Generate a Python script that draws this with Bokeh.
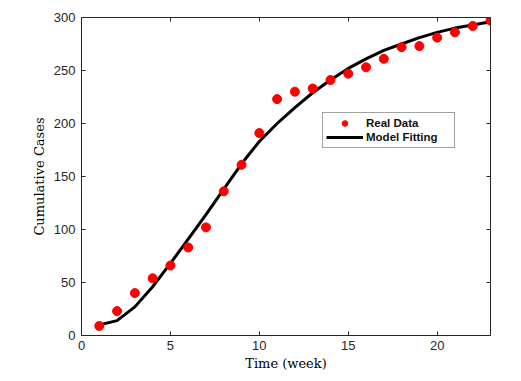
from bokeh.plotting import figure
from bokeh.models import LinearAxis, Legend, LegendItem, FixedTicker, Range1d
from bokeh.embed import file_html
from bokeh.resources import INLINE

weeks = list(range(1, 24))
real_data = [9, 23, 40, 54, 66, 83, 102, 136, 161, 191, 223, 230, 233, 241,
             247, 253, 261, 272, 273, 281, 286, 292, 297]
model_fit = [10, 14, 27, 46, 68, 91, 114, 138, 162, 183, 200, 215, 229, 241,
             252, 261, 269, 275, 281, 286, 290, 293, 296]
x_ticks = [0, 5, 10, 15, 20]
y_ticks = [0, 50, 100, 150, 200, 250, 300]

p = figure(width=513, height=373, output_backend="svg", toolbar_location=None,
           x_range=Range1d(0, 23), y_range=Range1d(0, 300),
           min_border_left=81, min_border_right=23, min_border_top=17,
           min_border_bottom=38)
p.grid.visible = False
p.outline_line_color = None
p.background_fill_color = "white"
p.border_fill_color = "white"

line = p.line(weeks, model_fit, line_color="black", line_width=3)
pts = p.scatter(weeks, real_data, size=9, fill_color="#ff0000", line_color="#ff0000")

tick_color = "#262626"
for ax, ticks in ((p.xaxis[0], x_ticks), (p.yaxis[0], y_ticks)):
    ax.ticker = FixedTicker(ticks=ticks)
    ax.major_tick_in = 4
    ax.major_tick_out = 0
    ax.minor_tick_line_color = None
    ax.axis_line_color = tick_color
    ax.major_tick_line_color = tick_color
    ax.major_label_text_font = "Liberation Sans"
    ax.major_label_text_font_size = "13px"
    ax.major_label_text_color = tick_color

p.xaxis[0].axis_label = "Time (week)"
p.yaxis[0].axis_label = "Cumulative Cases"
for ax in (p.xaxis[0], p.yaxis[0]):
    ax.axis_label_text_font = "DejaVu Serif"
    ax.axis_label_text_font_style = "normal"
    ax.axis_label_text_font_size = "13px"
    ax.axis_label_text_color = "black"
p.xaxis[0].axis_label_standoff = 3
p.xaxis[0].major_label_standoff = 5
p.yaxis[0].axis_label_standoff = 4
p.yaxis[0].major_label_standoff = 6

top = LinearAxis(ticker=FixedTicker(ticks=x_ticks))
right = LinearAxis(ticker=FixedTicker(ticks=y_ticks))
for ax, ticks in ((top, x_ticks), (right, y_ticks)):
    ax.major_tick_in = 4
    ax.major_tick_out = 0
    ax.minor_tick_line_color = None
    ax.axis_line_color = tick_color
    ax.major_tick_line_color = tick_color
    ax.major_label_overrides = {t: "" for t in ticks}
    ax.major_label_standoff = 0
p.add_layout(top, "above")
p.add_layout(right, "right")

legend = Legend(items=[LegendItem(label="Real Data", renderers=[pts]),
                       LegendItem(label="Model Fitting", renderers=[line])],
                location=(241, 187))
legend.label_text_font = "Liberation Sans"
legend.label_text_font_style = "bold"
legend.label_text_font_size = "11.5px"
legend.label_text_color = "#111111"
legend.border_line_color = "#444444"
legend.border_line_width = 1
legend.padding = 3
legend.spacing = 0
legend.glyph_width = 37
legend.glyph_height = 14
legend.label_height = 14
legend.label_width = 85
legend.label_standoff = 3
legend.margin = 0
p.add_layout(legend, "center")

open("out.html", "w").write(file_html(p, INLINE))
